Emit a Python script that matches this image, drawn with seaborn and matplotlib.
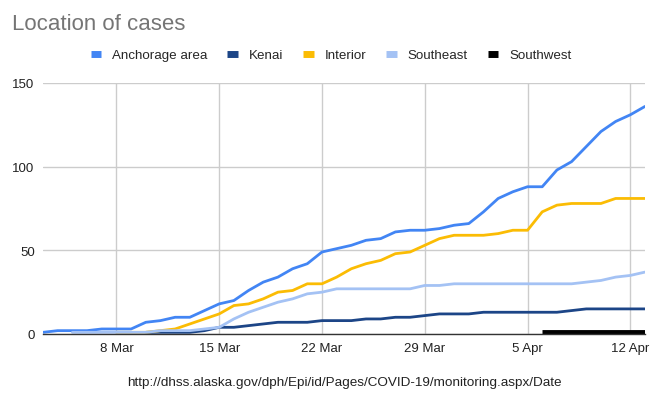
import pandas as pd
import numpy as np
import matplotlib
matplotlib.use('Agg')
import matplotlib.pyplot as plt
import matplotlib.dates as mdates
from matplotlib.lines import Line2D
import seaborn as sns

# 데이터
regions = ['Anchorage area', 'Kenai', 'Interior', 'Southeast', 'Southwest']
colors = ['#4285f4', '#1c4587', '#fbbc04', '#a4c2f4', '#000000']

start_dates = {
    'Anchorage area': '2020-03-03',
    'Kenai': '2020-03-10',
    'Interior': '2020-03-08',
    'Southeast': '2020-03-05',
    'Southwest': '2020-04-06',
}

anchorage = [1, 2, 2, 2, 3, 3, 3, 7, 8, 10, 10, 14, 18, 20, 26,
             31, 34, 39, 42, 49, 51, 53, 56, 57, 61, 62, 62, 63,
             65, 66, 73, 81, 85, 88, 88, 98, 103, 112, 121, 127, 131, 136]
kenai = [1, 1, 1, 1, 2, 4, 4, 5,
         6, 7, 7, 7, 8, 8, 8, 9, 9, 10, 10, 11, 12,
         12, 12, 13, 13, 13, 13, 13, 13, 14, 15, 15, 15, 15, 15]
interior = [1, 1, 1, 2, 3, 6, 9, 12, 17, 18,
            21, 25, 26, 30, 30, 34, 39, 42, 44, 48, 49, 53, 57,
            59, 59, 59, 60, 62, 62, 73, 77, 78, 78, 78, 81, 81, 81]
southeast = [1, 1, 1, 1, 1, 1, 2, 2, 2, 3, 4, 9, 13,
             16, 19, 21, 24, 25, 27, 27, 27, 27, 27, 27, 29, 29,
             30, 30, 30, 30, 30, 30, 30, 30, 30, 31, 32, 34, 35, 37]
southwest = [1, 1, 1, 1, 1, 1, 1, 1]

series = {
    'Anchorage area': anchorage,
    'Kenai': kenai,
    'Interior': interior,
    'Southeast': southeast,
    'Southwest': southwest,
}

frames = []
for name in regions:
    vals = series[name]
    d = pd.date_range(start_dates[name], periods=len(vals), freq='D')
    frames.append(pd.DataFrame({'date': d, 'cases': vals, 'region': name}))
df = pd.concat(frames, ignore_index=True)

sns.set_style('white')
plt.rcParams['font.family'] = ['Liberation Sans', 'DejaVu Sans']

fig = plt.figure(figsize=(6.62, 4.02), dpi=100)
ax = fig.add_axes([43 / 662, 67 / 402, 602 / 662, 251 / 402])

palette = dict(zip(regions, colors))
main = df[df['region'] != 'Southwest']
sns.lineplot(data=main, x='date', y='cases', hue='region', palette=palette,
             linewidth=2, legend=False, ax=ax)
sns.lineplot(data=df[df['region'] == 'Southwest'], x='date', y='cases',
             color='black', linewidth=3.5, legend=False, ax=ax,
             solid_capstyle='butt')

ax.set_xlim(pd.Timestamp('2020-03-03'), pd.Timestamp('2020-04-13'))
ax.set_ylim(0, 150)
ax.set_yticks([0, 50, 100, 150])
ax.set_xticks(pd.to_datetime(['2020-03-08', '2020-03-15', '2020-03-22',
                              '2020-03-29', '2020-04-05', '2020-04-12']))
ax.xaxis.set_major_formatter(mdates.DateFormatter('%-d %b'))
ax.grid(True, color='#cccccc', linewidth=1)
ax.set_axisbelow(True)
for s in ['top', 'right', 'left']:
    ax.spines[s].set_visible(False)
ax.spines['bottom'].set_color('#333333')
ax.spines['bottom'].set_linewidth(1)
ax.tick_params(length=0, labelsize=9.5, colors='#222222')
ax.tick_params(axis='y', pad=6)
ax.tick_params(axis='x', pad=6)
ax.set_xlabel('')
ax.set_ylabel('')

fig.text(12 / 662, 1 - 25 / 402, 'Location of cases', fontsize=16,
         color='#757575', va='center', ha='left')

handles = [Line2D([0], [0], color=c, linewidth=5, solid_capstyle='butt')
           for c in colors]
fig.legend(handles, regions, loc='center', ncol=5,
           bbox_to_anchor=(331 / 662, 1 - 56 / 402), frameon=False,
           fontsize=9.6, handlelength=0.8, handletextpad=0.8,
           columnspacing=1.5)

fig.text(344 / 662, 1 - 383 / 402,
         'http://dhss.alaska.gov/dph/Epi/id/Pages/COVID-19/monitoring.aspx/Date',
         fontsize=9.7, color='#222222', ha='center', va='center')

plt.savefig('out.png', dpi=100)
